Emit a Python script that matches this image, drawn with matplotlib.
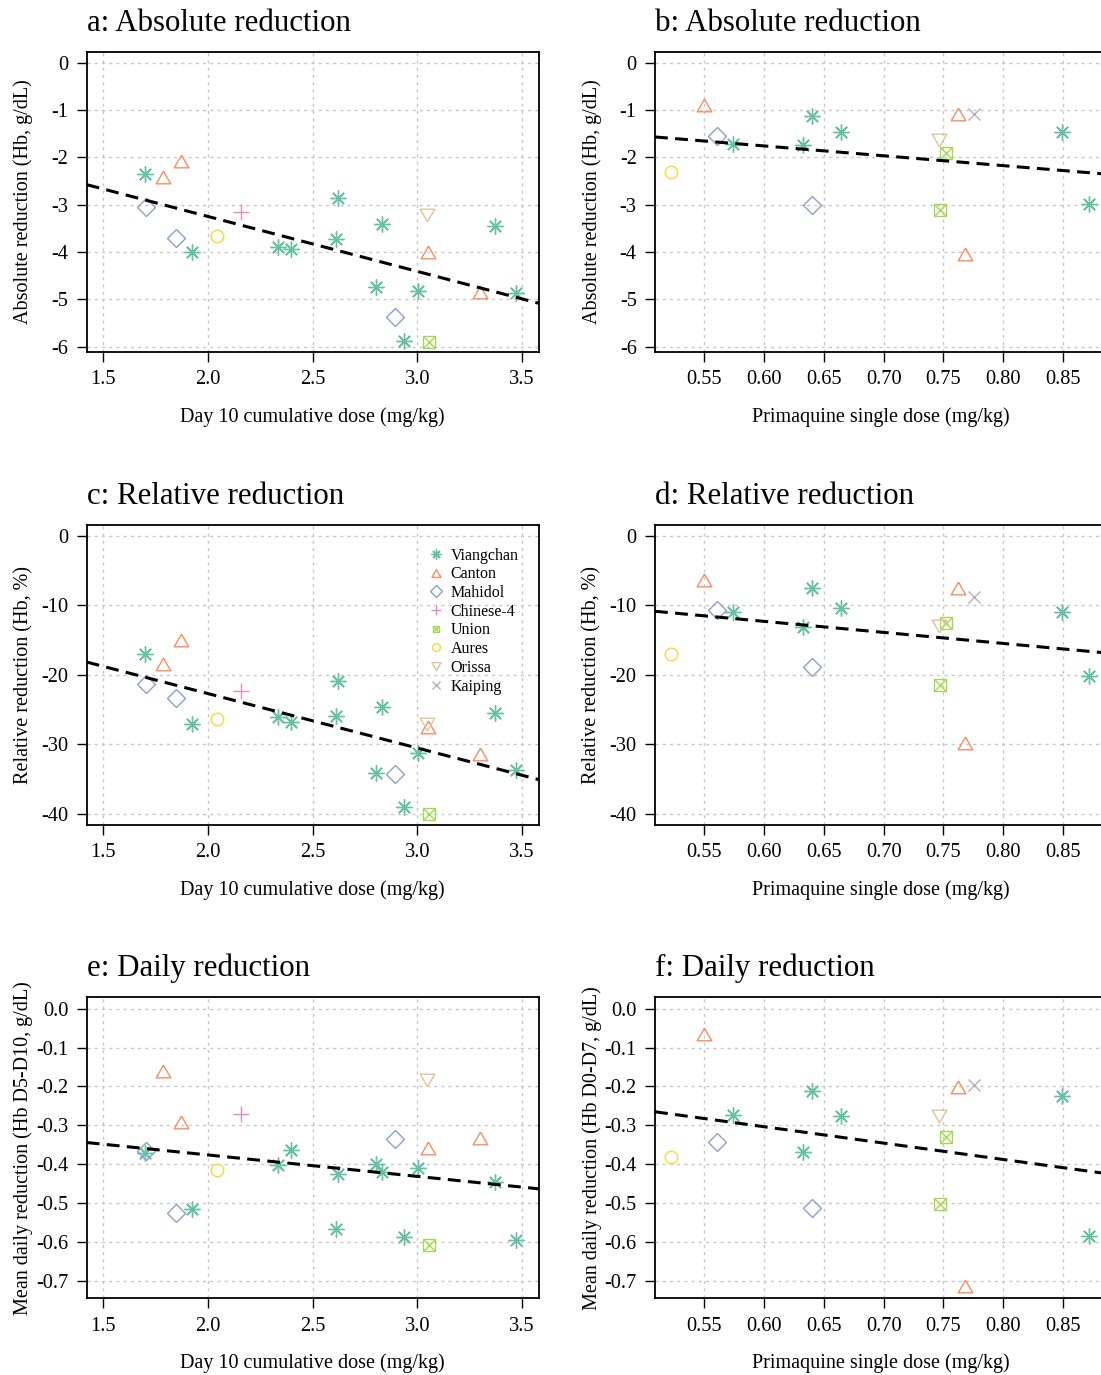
import matplotlib
matplotlib.use('Agg')
import matplotlib.pyplot as plt
from matplotlib.lines import Line2D
from matplotlib.legend_handler import HandlerTuple

plt.rcParams['font.family'] = ['Liberation Serif', 'DejaVu Serif']
plt.rcParams['axes.unicode_minus'] = False

# ---------------- data ----------------
strains = ['Viangchan', 'Canton', 'Mahidol', 'Chinese-4', 'Union', 'Aures', 'Orissa', 'Kaiping']
colors = ['#66C2A5', '#FC8D62', '#8DA0CB', '#E78AC3', '#A6D854', '#FFD92F', '#E5C494', '#B3B3B3']

# Day 10 cumulative dose panels (a, c, e)
viangchan_cum = [1.699, 1.924, 2.333, 2.397, 2.623, 2.611, 2.830, 2.803, 3.002, 2.936, 3.369, 3.473]
viangchan_cum_abs = [-2.345, -4.01, -3.894, -3.944, -2.859, -3.718, -3.401, -4.739, -4.817, -5.887, -3.451, -4.866]
viangchan_cum_rel = [-17.0, -27.11, -26.11, -26.78, -20.84, -25.92, -24.57, -34.11, -31.19, -38.95, -25.44, -33.72]
viangchan_cum_daily = [-0.371, -0.514, -0.402, -0.364, -0.424, -0.566, -0.420, -0.399, -0.409, -0.586, -0.446, -0.595]

canton_cum = [1.871, 1.785, 3.049, 3.299]
canton_cum_abs = [-2.07, -2.41, -4.0, -4.85]
canton_cum_rel = [-15.04, -18.4, -27.54, -31.43]
canton_cum_daily = [-0.291, -0.160, -0.358, -0.332]

mahidol_cum = [1.705, 1.847, 2.893]
mahidol_cum_abs = [-3.056, -3.711, -5.366]
mahidol_cum_rel = [-21.37, -23.33, -34.3]
mahidol_cum_daily = [-0.367, -0.526, -0.336]

chinese4_cum = [2.156]
chinese4_cum_abs = [-3.148]
chinese4_cum_rel = [-22.32]
chinese4_cum_daily = [-0.270]

union_cum = [3.054]
union_cum_abs = [-5.894]
union_cum_rel = [-40.0]
union_cum_daily = [-0.608]

aures_cum = [2.045]
aures_cum_abs = [-3.669]
aures_cum_rel = [-26.4]
aures_cum_daily = [-0.416]

orissa_cum = [3.048]
orissa_cum_abs = [-3.218]
orissa_cum_rel = [-27.07]
orissa_cum_daily = [-0.184]

# Primaquine single dose panels (b, d, f)
viangchan_sd = [0.574, 0.640, 0.633, 0.664, 0.849, 0.872]
viangchan_sd_abs = [-1.711, -1.12, -1.746, -1.458, -1.472, -2.979]
viangchan_sd_rel = [-11.02, -7.47, -13.13, -10.44, -11.02, -20.17]
viangchan_sd_daily = [-0.274, -0.213, -0.369, -0.276, -0.2245, -0.584]

canton_sd = [0.550, 0.7625, 0.768]
canton_sd_abs = [-0.89, -1.085, -4.035]
canton_sd_rel = [-6.37, -7.57, -29.8]
canton_sd_daily = [-0.064, -0.201, -0.712]

mahidol_sd = [0.561, 0.640]
mahidol_sd_abs = [-1.556, -3.014]
mahidol_sd_rel = [-10.73, -18.92]
mahidol_sd_daily = [-0.344, -0.513]

union_sd = [0.752, 0.747]
union_sd_abs = [-1.90, -3.106]
union_sd_rel = [-12.6, -21.41]
union_sd_daily = [-0.330, -0.501]

aures_sd = [0.5224]
aures_sd_abs = [-2.317]
aures_sd_rel = [-16.96]
aures_sd_daily = [-0.382]

orissa_sd = [0.746]
orissa_sd_abs = [-1.64]
orissa_sd_rel = [-12.93]
orissa_sd_daily = [-0.275]

kaiping_sd = [0.776]
kaiping_sd_abs = [-1.09]
kaiping_sd_rel = [-8.81]
kaiping_sd_daily = [-0.197]

# fitted lines (intercept, slope)
fit_a = (-0.93, -1.16)
fit_b = (-0.511, -2.08)
fit_c = (-7.06, -7.82)
fit_d = (-2.80, -15.86)
fit_e = (-0.266, -0.0551)
fit_f = (-0.051, -0.421)

cum_ticks = [1.5, 2.0, 2.5, 3.0, 3.5]
sd_ticks = [0.55, 0.60, 0.65, 0.70, 0.75, 0.80, 0.85]
abs_ticks = [0, -1, -2, -3, -4, -5, -6]
rel_ticks = [0, -10, -20, -30, -40]
daily_ticks = [0.0, -0.1, -0.2, -0.3, -0.4, -0.5, -0.6, -0.7]

# ---------------- styles ----------------
tri_up = [(0, 1.1667), (1.347, -1.1667), (-1.347, -1.1667), (0, 1.1667)]
tri_dn = [(0, -1.1667), (1.347, 1.1667), (-1.347, 1.1667), (0, -1.1667)]
marker_styles = {
    'Viangchan': [((8, 2, 0), 11.5)],
    'Canton': [(tri_up, 10.5)],
    'Mahidol': [('D', 9.3)],
    'Chinese-4': [('+', 11.5)],
    'Union': [('s', 8.0), ('x', 8.0)],
    'Aures': [('o', 9.0)],
    'Orissa': [(tri_dn, 10.5)],
    'Kaiping': [('x', 8.6)],
}
color_of = dict(zip(strains, colors))

W, H = 1101, 1375
fig = plt.figure(figsize=(W / 100, H / 100), dpi=100)


def ax_at(l, t, r, b):
    return fig.add_axes([l / W, 1 - b / H, (r - l) / W, (b - t) / H])


col_lr = [(86.7, 538.7), (655, 1106)]
row_tb = [(51.7, 352), (525, 825), (997.3, 1298.3)]

TICK_FS = 14.7
LABEL_FS = 14.5
TITLE_FS = 22.2


def draw_points(ax, s, x, y, scale=1.0):
    for m, ms in marker_styles[s]:
        ax.plot(x, y, ls='none', marker=m, markersize=ms * scale, mfc='none',
                mec=color_of[s], mew=1.0, zorder=3)


def style_axes(ax, title, xlabel, ylabel, xlim, ylim, xticks, yticks, xfmt, yfmt):
    ax.set_xlim(*xlim)
    ax.set_ylim(*ylim)
    ax.set_xticks(xticks)
    ax.set_yticks(yticks)
    ax.set_xticklabels([xfmt.format(v) for v in xticks])
    ax.set_yticklabels([yfmt.format(v) for v in yticks])
    ax.tick_params(axis='both', direction='out', length=7.2, width=1.0,
                   labelsize=TICK_FS, top=False, right=False)
    ax.tick_params(axis='x', pad=6.0)
    ax.tick_params(axis='y', pad=6.0)
    ax.grid(True, color='#c8c8c8', linestyle=(0, (2.2, 3.0)), linewidth=1.0, zorder=0)
    ax.set_axisbelow(True)
    for sp in ax.spines.values():
        sp.set_linewidth(1.3)
    ax.set_title(title, loc='left', fontsize=TITLE_FS, pad=15)
    ax.set_xlabel(xlabel, fontsize=LABEL_FS)
    ax.set_ylabel(ylabel, fontsize=LABEL_FS)
    ax.xaxis.set_label_coords(0.5, -0.216)
    ax.xaxis.label.set_va('center')
    ax.yaxis.set_label_coords(-0.14, 0.5)
    ax.yaxis.label.set_va('center')


def draw_fit(ax, fit):
    ax.axline((0, fit[0]), slope=fit[1], color='black', lw=2.2,
              linestyle=(0, (4.2, 2.4)), zorder=4)


cum_data = {
    'abs': {'Viangchan': (viangchan_cum, viangchan_cum_abs), 'Canton': (canton_cum, canton_cum_abs),
            'Mahidol': (mahidol_cum, mahidol_cum_abs), 'Chinese-4': (chinese4_cum, chinese4_cum_abs),
            'Union': (union_cum, union_cum_abs), 'Aures': (aures_cum, aures_cum_abs),
            'Orissa': (orissa_cum, orissa_cum_abs)},
    'rel': {'Viangchan': (viangchan_cum, viangchan_cum_rel), 'Canton': (canton_cum, canton_cum_rel),
            'Mahidol': (mahidol_cum, mahidol_cum_rel), 'Chinese-4': (chinese4_cum, chinese4_cum_rel),
            'Union': (union_cum, union_cum_rel), 'Aures': (aures_cum, aures_cum_rel),
            'Orissa': (orissa_cum, orissa_cum_rel)},
    'daily': {'Viangchan': (viangchan_cum, viangchan_cum_daily), 'Canton': (canton_cum, canton_cum_daily),
              'Mahidol': (mahidol_cum, mahidol_cum_daily), 'Chinese-4': (chinese4_cum, chinese4_cum_daily),
              'Union': (union_cum, union_cum_daily), 'Aures': (aures_cum, aures_cum_daily),
              'Orissa': (orissa_cum, orissa_cum_daily)},
}
sd_data = {
    'abs': {'Viangchan': (viangchan_sd, viangchan_sd_abs), 'Canton': (canton_sd, canton_sd_abs),
            'Mahidol': (mahidol_sd, mahidol_sd_abs), 'Union': (union_sd, union_sd_abs),
            'Aures': (aures_sd, aures_sd_abs), 'Orissa': (orissa_sd, orissa_sd_abs),
            'Kaiping': (kaiping_sd, kaiping_sd_abs)},
    'rel': {'Viangchan': (viangchan_sd, viangchan_sd_rel), 'Canton': (canton_sd, canton_sd_rel),
            'Mahidol': (mahidol_sd, mahidol_sd_rel), 'Union': (union_sd, union_sd_rel),
            'Aures': (aures_sd, aures_sd_rel), 'Orissa': (orissa_sd, orissa_sd_rel),
            'Kaiping': (kaiping_sd, kaiping_sd_rel)},
    'daily': {'Viangchan': (viangchan_sd, viangchan_sd_daily), 'Canton': (canton_sd, canton_sd_daily),
              'Mahidol': (mahidol_sd, mahidol_sd_daily), 'Union': (union_sd, union_sd_daily),
              'Aures': (aures_sd, aures_sd_daily), 'Orissa': (orissa_sd, orissa_sd_daily),
              'Kaiping': (kaiping_sd, kaiping_sd_daily)},
}

panels = [
    ('a: Absolute reduction', 'b: Absolute reduction', 'abs', 'Absolute reduction (Hb, g/dL)',
     'Absolute reduction (Hb, g/dL)', (-6.113, 0.232), abs_ticks, '{:.0f}', fit_a, fit_b),
    ('c: Relative reduction', 'd: Relative reduction', 'rel', 'Relative reduction (Hb, %)',
     'Relative reduction (Hb, %)', (-41.58, 1.53), rel_ticks, '{:.0f}', fit_c, fit_d),
    ('e: Daily reduction', 'f: Daily reduction', 'daily', 'Mean daily reduction (Hb D5-D10, g/dL)',
     'Mean daily reduction (Hb D0-D7, g/dL)', (-0.7447, 0.0291), daily_ticks, '{:.1f}', fit_e, fit_f),
]

cum_xlim = (1.42, 3.58)
sd_xlim = (0.5088, 0.886)

axes_c = None
for r, (tl, tr, key, yl_l, yl_r, ylim, yticks, yfmt, fl, fr) in enumerate(panels):
    t, b = row_tb[r]
    axl = ax_at(col_lr[0][0], t, col_lr[0][1], b)
    axr = ax_at(col_lr[1][0], t, col_lr[1][1], b)
    style_axes(axl, tl, 'Day 10 cumulative dose (mg/kg)', yl_l, cum_xlim, ylim,
               cum_ticks, yticks, '{:.1f}', yfmt)
    style_axes(axr, tr, 'Primaquine single dose (mg/kg)', yl_r, sd_xlim, ylim,
               sd_ticks, yticks, '{:.2f}', yfmt)
    for s in strains:
        if s in cum_data[key]:
            x, y = cum_data[key][s]
            draw_points(axl, s, x, y)
        if s in sd_data[key]:
            x, y = sd_data[key][s]
            draw_points(axr, s, x, y)
    draw_fit(axl, fl)
    draw_fit(axr, fr)
    if r == 1:
        axes_c = axl

# legend in panel c
handles = []
for s in strains:
    parts = [Line2D([], [], ls='none', marker=m, markersize=ms * 0.62, mfc='none',
                    mec=color_of[s], mew=1.0) for m, ms in marker_styles[s]]
    handles.append(tuple(parts) if len(parts) > 1 else parts[0])
axes_c.legend(handles, strains, loc='upper left', bbox_to_anchor=(0.757, 0.925),
              frameon=False, fontsize=11.5, handlelength=0.92, handletextpad=0.45,
              labelspacing=0.17, borderpad=0, borderaxespad=0,
              handler_map={tuple: HandlerTuple(ndivide=1, pad=0)})

fig.savefig('out.png', dpi=100)
